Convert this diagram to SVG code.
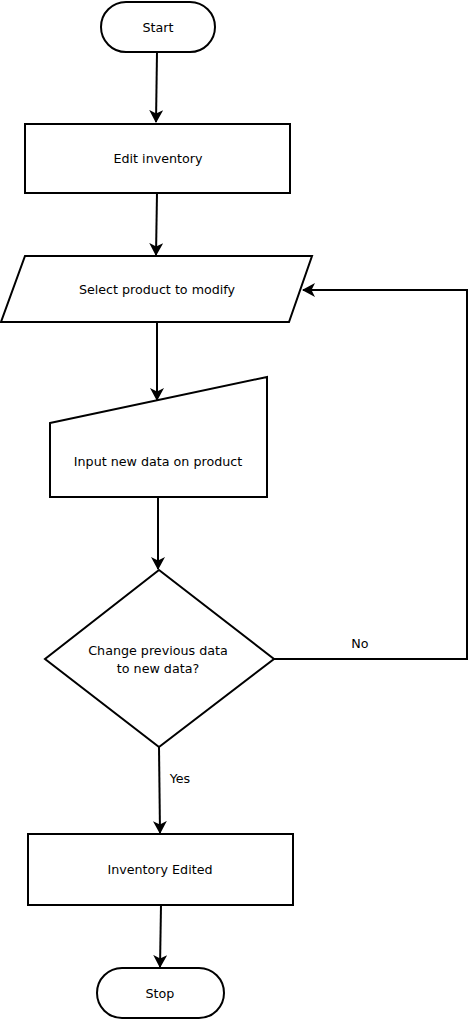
<svg xmlns="http://www.w3.org/2000/svg" width="469" height="1020" viewBox="0 0 469 1020">
<style>
.s{fill:#fff;stroke:#000;stroke-width:2}
.c{fill:none;stroke:#000;stroke-width:2}
text{font-family:"DejaVu Sans",Verdana,sans-serif;font-size:12.7px;fill:#000;text-anchor:middle}
</style>
<defs>
<marker id="a" markerUnits="userSpaceOnUse" viewBox="0 0 13 14" refX="12" refY="7" markerWidth="13" markerHeight="14" orient="auto">
<path d="M0,0 L13,7 L0,14 L3.5,7 Z" fill="#000"/>
</marker>
</defs>
<rect width="469" height="1020" fill="#fff"/>
<g id="connectors">
<path class="c" d="M157,52 L156,122" marker-end="url(#a)"/>
<path class="c" d="M157,193 L156,255" marker-end="url(#a)"/>
<path class="c" d="M157,322 L157,400" marker-end="url(#a)"/>
<path class="c" d="M158,497 L158,569" marker-end="url(#a)"/>
<path class="c" d="M274,659 L467,659 L467,290 L303,290" marker-end="url(#a)"/>
<path class="c" d="M159,747 L160,833" marker-end="url(#a)"/>
<path class="c" d="M161,905 L160,967" marker-end="url(#a)"/>
<text x="360" y="648">No</text>
<text x="180" y="783">Yes</text>
</g>
<g id="start">
<rect class="s" x="101" y="2" width="114" height="50" rx="25"/>
<text x="158" y="32">Start</text>
</g>
<g id="edit">
<rect class="s" x="25" y="124" width="265" height="69"/>
<text x="158" y="163">Edit inventory</text>
</g>
<g id="select">
<polygon class="s" points="25,256 312,256 289,322 1,322"/>
<text x="157" y="294">Select product to modify</text>
</g>
<g id="input">
<polygon class="s" points="50,423 267,377 267,497 50,497"/>
<text x="158" y="466">Input new data on product</text>
</g>
<g id="decision">
<polygon class="s" points="159,570 274,659 159,747 45,659"/>
<text x="158" y="655">Change previous data</text>
<text x="158" y="673">to new data?</text>
</g>
<g id="edited">
<rect class="s" x="28" y="834" width="265" height="71"/>
<text x="160" y="874">Inventory Edited</text>
</g>
<g id="stop">
<rect class="s" x="97" y="968" width="127" height="50" rx="25"/>
<text x="160" y="998">Stop</text>
</g>
</svg>
